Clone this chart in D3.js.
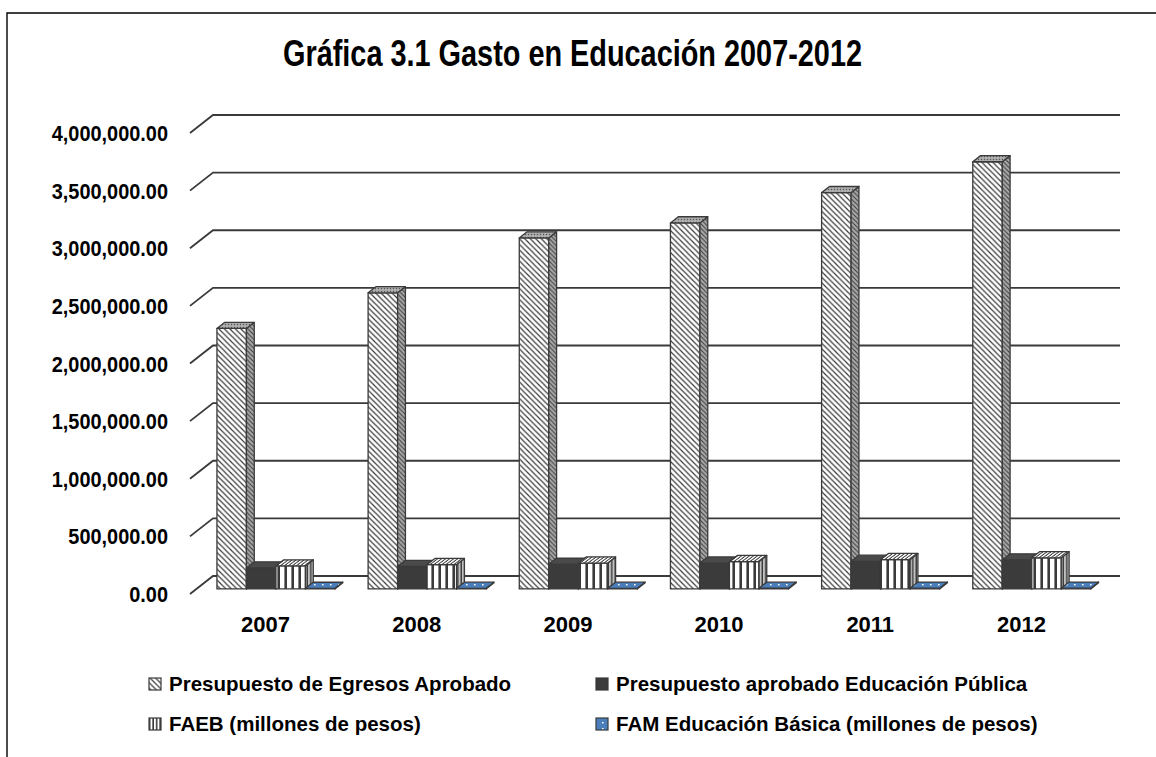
<!DOCTYPE html>
<html><head><meta charset="utf-8">
<script src="https://cdn.jsdelivr.net/npm/d3@7"></script>
<style>
html,body{margin:0;padding:0;background:#fff;}
svg{display:block;font-family:"Liberation Sans",Arial,sans-serif;font-weight:bold;}
</style></head>
<body>
<svg id="chart" width="1156" height="757"></svg>
<script>
// ---- data ----
const years = ["2007","2008","2009","2010","2011","2012"];
const seriesNames = ["Presupuesto de Egresos Aprobado","Presupuesto aprobado Educación Pública","FAEB (millones de pesos)","FAM Educación Básica (millones de pesos)"];
const presupuestoEgresos = [2260400, 2569400, 3045500, 3176300, 3438900, 3706900];
const presupuestoEducacion = [182000, 195000, 215000, 225000, 240000, 252000];
const faeb = [200000, 212000, 225000, 238000, 255000, 270000];
const famBasica = [5200, 5600, 5900, 6200, 6500, 7000];
const yTicks = [0,500000,1000000,1500000,2000000,2500000,3000000,3500000,4000000];
const title = "Gráfica 3.1 Gasto en Educación 2007-2012";

const seriesValues = [presupuestoEgresos, presupuestoEducacion, faeb, famBasica];

const svg = d3.select("#chart");
const DX = 23, DY = 18;
const y = d3.scaleLinear().domain([0,4000000]).range([594,133]);
const x = d3.scaleBand().domain(years).range([190,1097]).padding(0);
const xs = d3.scaleBand().domain(d3.range(4)).range([20.5,138.5]).padding(0);
const z0 = 0.28, z1 = 0.62;
const P = (xf, v, z) => [xf + z*DX, y(v) - z*DY];

// ---- patterns ----
const defs = svg.append("defs");
function hatch(id, bg, line, size, sw){
  const p = defs.append("pattern").attr("id",id).attr("patternUnits","userSpaceOnUse")
    .attr("width",size).attr("height",size);
  p.append("rect").attr("width",size).attr("height",size).attr("fill",bg);
  p.append("path").attr("d",`M0,0 L${size},${size} M${-size},0 L${size},${2*size} M0,${-size} L${2*size},${size}`)
    .attr("stroke",line).attr("stroke-width",sw);
}
hatch("hatchFront","#ffffff","#3a3a3a",5.5,1.2);
hatch("hatchSide","#a8a8a8","#3a3a3a",4.5,1);
{
  const p = defs.append("pattern").attr("id","stipple").attr("patternUnits","userSpaceOnUse").attr("width",3).attr("height",3);
  p.append("rect").attr("width",3).attr("height",3).attr("fill","#a0a0a0");
  p.append("rect").attr("width",1).attr("height",1).attr("fill","#555");
  p.append("rect").attr("x",1.5).attr("y",1.5).attr("width",1).attr("height",1).attr("fill","#e0e0e0");
}
function vstripe(id, bg, line, period, lw, transform){
  const p = defs.append("pattern").attr("id",id).attr("patternUnits","userSpaceOnUse")
    .attr("width",period).attr("height",period);
  if(transform) p.attr("patternTransform",transform);
  p.append("rect").attr("width",period).attr("height",period).attr("fill",bg);
  p.append("rect").attr("x",period-lw).attr("width",lw).attr("height",period).attr("fill",line);
}
vstripe("vFront","#ffffff","#3a3a3a",7,2.6);
vstripe("vSide","#c0c0c0","#3a3a3a",3.5,1.4);
vstripe("vTop","#ffffff","#3a3a3a",4,1.6,"skewX(-53)");
vstripe("vLegend","#ffffff","#3a3a3a",3.5,1.6);
{
  const p = defs.append("pattern").attr("id","dots").attr("patternUnits","userSpaceOnUse").attr("width",8).attr("height",6);
  p.append("rect").attr("width",8).attr("height",6).attr("fill","#4a7ebb");
  p.append("rect").attr("x",2).attr("y",2).attr("width",1.6).attr("height",1.4).attr("fill","#ffffff");
}

const fills = [
  {front:"url(#hatchFront)", side:"url(#hatchSide)", top:"url(#stipple)", legend:"url(#hatchFront)"},
  {front:"#3b3b3b", side:"#303030", top:"#4a4a4a", legend:"#3b3b3b"},
  {front:"url(#vFront)", side:"url(#vSide)", top:"url(#vTop)", legend:"url(#vLegend)"},
  {front:"url(#dots)", side:"#2f5f99", top:"url(#dots)", legend:"url(#dots)"}
];

// ---- frame ----
svg.append("path").attr("d","M7,757 L7,13 L1156,13").attr("fill","none").attr("stroke","#000").attr("stroke-width",1.4);

// ---- title ----
svg.append("text").attr("x",283).attr("y",66).attr("font-size",36)
  .attr("textLength",579).attr("lengthAdjust","spacingAndGlyphs").attr("fill","#000").text(title);

// ---- gridlines (side wall + back wall) ----
const x0 = x.range()[0], x1 = x.range()[1];
svg.append("g").selectAll("path").data(yTicks).join("path")
  .attr("d", t => `M${x0},${y(t)} L${x0+DX},${y(t)-DY} L${x1+DX},${y(t)-DY}`)
  .attr("fill","none").attr("stroke","#3a3a3a").attr("stroke-width",1.8);

// ---- y labels ----
const fmt = d3.format(",.2f");
svg.append("g").selectAll("text").data(yTicks).join("text")
  .attr("x",168).attr("y", t => y(t)+8).attr("text-anchor","end")
  .attr("font-size",22).attr("fill","#000").text(t => fmt(t))
  .each(function(){ const L=this.getComputedTextLength(); d3.select(this).attr("textLength",L*0.905).attr("lengthAdjust","spacingAndGlyphs"); });

// ---- x labels ----
svg.append("g").selectAll("text").data(years).join("text")
  .attr("x", d => x(d)+x.bandwidth()/2).attr("y",632).attr("text-anchor","middle")
  .attr("font-size",22).attr("fill","#000").text(d => d);

// ---- bars ----
const bars = [];
years.forEach((yr, i) => {
  seriesValues.forEach((arr, s) => {
    bars.push({yr, s, v: arr[i]});
  });
});
const pts = a => a.map(p => p.join(",")).join(" ");
const gb = svg.append("g").attr("stroke","#3a3a3a").attr("stroke-width",1.3).attr("stroke-linejoin","round");
bars.forEach(b => {
  const xa = x(b.yr) + xs(b.s), xb = xa + xs.bandwidth();
  const f = fills[b.s];
  const g = gb.append("g");
  g.append("polygon").attr("points", pts([P(xa,b.v,z0),P(xb,b.v,z0),P(xb,0,z0),P(xa,0,z0)])).attr("fill",f.front);
  g.append("polygon").attr("points", pts([P(xb,b.v,z0),P(xb,b.v,z1),P(xb,0,z1),P(xb,0,z0)])).attr("fill",f.side);
  g.append("polygon").attr("points", pts([P(xa,b.v,z0),P(xa,b.v,z1),P(xb,b.v,z1),P(xb,b.v,z0)])).attr("fill",f.top);
});

// ---- legend ----
const legendPos = [[149,691],[596,691],[149,731],[596,731]];
const lg = svg.append("g");
seriesNames.forEach((name, s) => {
  const [lx, ly] = legendPos[s];
  lg.append("rect").attr("x",lx).attr("y",ly-13).attr("width",12).attr("height",12)
    .attr("fill",fills[s].legend).attr("stroke","#3a3a3a").attr("stroke-width",1.2);
  lg.append("text").attr("x",lx+20).attr("y",ly).attr("font-size",20.5).attr("fill","#000").text(name);
});
</script>
</body></html>
